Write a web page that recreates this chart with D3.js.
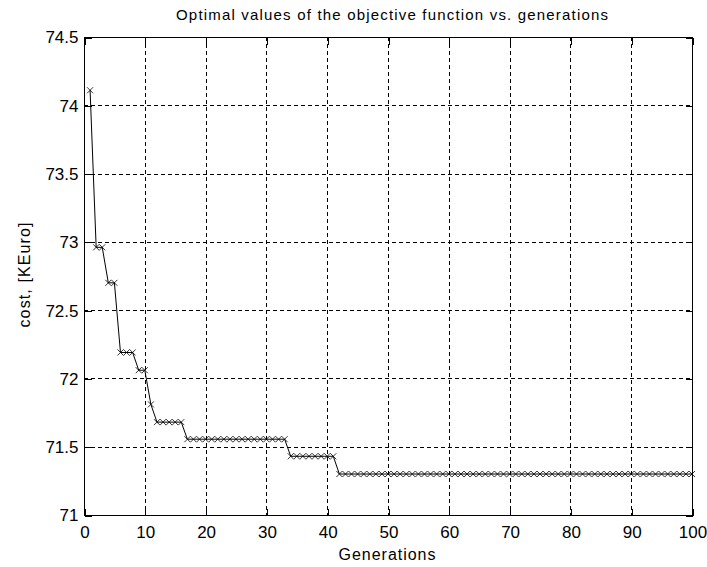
<!DOCTYPE html>
<html><head><meta charset="utf-8">
<script src="https://cdn.jsdelivr.net/npm/d3@7"></script>
<style>
html,body{margin:0;padding:0;background:#fff;}
svg{display:block;font-family:Arial,"Liberation Sans",Helvetica,sans-serif;}
</style></head>
<body>
<svg id="chart" width="707" height="567"></svg>
<script>
const title = "Optimal values of the objective function vs. generations";
const xLabel = "Generations";
const yLabel = "cost, [KEuro]";
const xTicks = [0,10,20,30,40,50,60,70,80,90,100];
const yTicks = [71,71.5,72,72.5,73,73.5,74,74.5];
// generation -> cost (piecewise constant runs)
const runStarts = [1, 2, 4, 6, 9, 11, 12, 17, 34, 42];
const runValues = [74.11, 72.96, 72.70, 72.19, 72.06, 71.81, 71.68, 71.555, 71.43, 71.30];
const lastGeneration = 100;

const generations = d3.range(1, lastGeneration + 1);
const costs = generations.map(g => {
  let v = runValues[0];
  runStarts.forEach((s, i) => { if (g >= s) v = runValues[i]; });
  return v;
});
const data = generations.map((g, i) => ({g, c: costs[i]}));

const svg = d3.select("#chart");
const L = 84, R = 692, T = 37, B = 515;
const x = d3.scaleLinear().domain([0, 100]).range([L, R]);
const y = d3.scaleLinear().domain([71, 74.5]).range([B, T]);

// grid
const grid = svg.append("g").attr("stroke", "#000").attr("stroke-width", 1)
  .attr("stroke-dasharray", "4,3").attr("shape-rendering", "crispEdges");
xTicks.slice(1, -1).forEach(t => grid.append("line")
  .attr("x1", Math.round(x(t)) + 0.5).attr("x2", Math.round(x(t)) + 0.5).attr("y1", T).attr("y2", B));
yTicks.slice(1, -1).forEach(t => grid.append("line")
  .attr("y1", Math.round(y(t)) + 0.5).attr("y2", Math.round(y(t)) + 0.5).attr("x1", L).attr("x2", R));

// axes frame
svg.append("rect").attr("x", L + 0.5).attr("y", T + 0.5).attr("width", R - L).attr("height", B - T)
  .attr("fill", "none").attr("stroke", "#000").attr("stroke-width", 1).attr("shape-rendering", "crispEdges");

const tl = 7;
const xAxisB = d3.axisBottom(x).tickValues(xTicks).tickSizeInner(-tl).tickSizeOuter(0).tickPadding(10).tickFormat(d3.format("d"));
const xAxisT = d3.axisTop(x).tickValues(xTicks).tickSizeInner(-tl).tickSizeOuter(0).tickFormat("");
const yAxisL = d3.axisLeft(y).tickValues(yTicks).tickSizeInner(-tl).tickSizeOuter(0).tickPadding(6).tickFormat(d => d3.format("")(d));
const yAxisR = d3.axisRight(y).tickValues(yTicks).tickSizeInner(-tl).tickSizeOuter(0).tickFormat("");

function style(g){
  g.select(".domain").remove();
  g.selectAll(".tick line").attr("stroke", "#000").attr("shape-rendering", "crispEdges");
  g.selectAll("text").attr("fill", "#000").style("font-size", "17px").style("font-family", "Arial, 'Liberation Sans', sans-serif");
}
svg.append("g").attr("transform", `translate(0.5,${B + 0.5})`).call(xAxisB).call(style);
svg.append("g").attr("transform", `translate(0.5,${T + 0.5})`).call(xAxisT).call(style);
svg.append("g").attr("transform", `translate(${L + 0.5},0.5)`).call(yAxisL).call(style);
svg.append("g").attr("transform", `translate(${R + 0.5},0.5)`).call(yAxisR).call(style);

// line
svg.append("path").datum(data)
  .attr("d", d3.line().x(d => x(d.g)).y(d => y(d.c)))
  .attr("fill", "none").attr("stroke", "#000").attr("stroke-width", 1);

// x markers
const m = 3;
svg.append("g").selectAll("path").data(data).join("path")
  .attr("d", d => `M${x(d.g)-m},${y(d.c)-m}L${x(d.g)+m},${y(d.c)+m}M${x(d.g)-m},${y(d.c)+m}L${x(d.g)+m},${y(d.c)-m}`)
  .attr("stroke", "#000").attr("stroke-width", 0.8).attr("fill", "none");

// texts
svg.append("text").attr("x", 392).attr("y", 20).attr("text-anchor", "middle")
  .attr("textLength", 432).attr("lengthAdjust", "spacing")
  .style("font-size", "15px").text(title);
svg.append("text").attr("x", 387).attr("y", 560).attr("text-anchor", "middle")
  .attr("textLength", 97).attr("lengthAdjust", "spacing")
  .style("font-size", "16px").text(xLabel);
svg.append("text").attr("transform", `translate(30,275) rotate(-90)`).attr("text-anchor", "middle")
  .attr("textLength", 105).attr("lengthAdjust", "spacing")
  .style("font-size", "16px").text(yLabel);
</script>
</body></html>
